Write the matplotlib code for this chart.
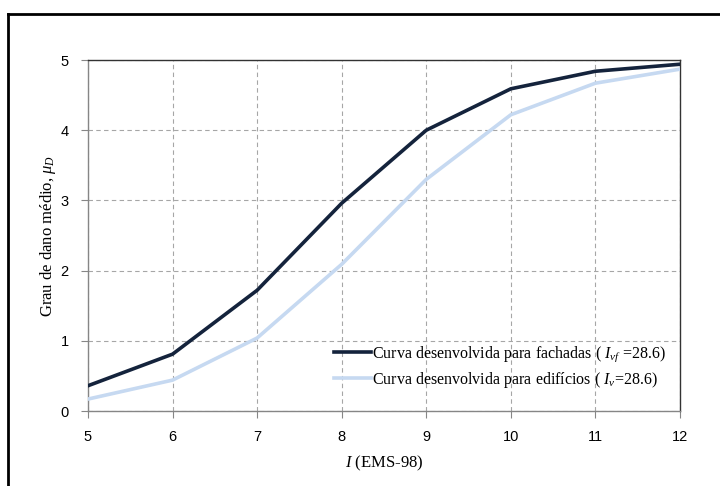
import matplotlib
matplotlib.use("Agg")
import matplotlib.pyplot as plt
from matplotlib.lines import Line2D

# intensity (EMS-98)
intensity = [5, 6, 7, 8, 9, 10, 11, 12]
# mean damage grade, facades curve
mu_fachadas = [0.36, 0.81, 1.72, 2.96, 4.00, 4.59, 4.84, 4.94]
# mean damage grade, buildings curve
mu_edificios = [0.17, 0.44, 1.04, 2.09, 3.30, 4.22, 4.67, 4.87]

label_fachadas = r"Curva desenvolvida para fachadas ( $I_{vf}$ =28.6)"
label_edificios = r"Curva desenvolvida para edifícios ( $I_{v}$=28.6)"

plt.rcParams["mathtext.fontset"] = "custom"
plt.rcParams["mathtext.it"] = "Liberation Serif:italic"
plt.rcParams["mathtext.rm"] = "Liberation Serif"

fig = plt.figure(figsize=(7.2, 4.86), dpi=100)
ax = fig.add_axes([0.1222, 0.1543, 0.8222, 0.7222])

ax.plot(intensity, mu_fachadas, color="#14233c", lw=2.6, label=label_fachadas, zorder=3)
ax.plot(intensity, mu_edificios, color="#c6d9f1", lw=2.6, label=label_edificios, zorder=3)

ax.set_xlim(5, 12)
ax.set_ylim(0, 5)
ax.set_xticks(intensity)
ax.set_yticks([0, 1, 2, 3, 4, 5])
ax.grid(True, color="#a6a6a6", ls=(0, (4, 3)), lw=0.8)
ax.set_axisbelow(True)

for side in ("top", "right"):
    ax.spines[side].set_color("#333333")
    ax.spines[side].set_linewidth(1.0)
for side in ("left", "bottom"):
    ax.spines[side].set_color("#868686")
    ax.spines[side].set_linewidth(1.0)

ax.tick_params(axis="both", direction="out", length=5, color="#868686",
               labelsize=10.5, pad=9)
for lbl in ax.get_xticklabels() + ax.get_yticklabels():
    lbl.set_fontfamily("Liberation Sans")

ax.set_xlabel(r"$I$ (EMS-98)", fontfamily="Liberation Serif", fontsize=12, labelpad=7)
ax.set_ylabel(r"Grau de dano médio, $\mu_D$", fontfamily="Liberation Serif",
              fontsize=12, labelpad=2)

ax.legend(loc="lower right", bbox_to_anchor=(1.0, 0.02), frameon=False,
          prop={"family": "Liberation Serif", "size": 11.5},
          handlelength=2.3, handletextpad=0.05, labelspacing=0.35)

# outer frame lines (top and left)
fig.add_artist(Line2D([0.0118, 1.0], [0.9712, 0.9712], color="black", lw=2.0,
                      transform=fig.transFigure))
fig.add_artist(Line2D([0.0118, 0.0118], [0.0, 0.9712], color="black", lw=2.0,
                      transform=fig.transFigure))

fig.savefig("out.png", dpi=100)
